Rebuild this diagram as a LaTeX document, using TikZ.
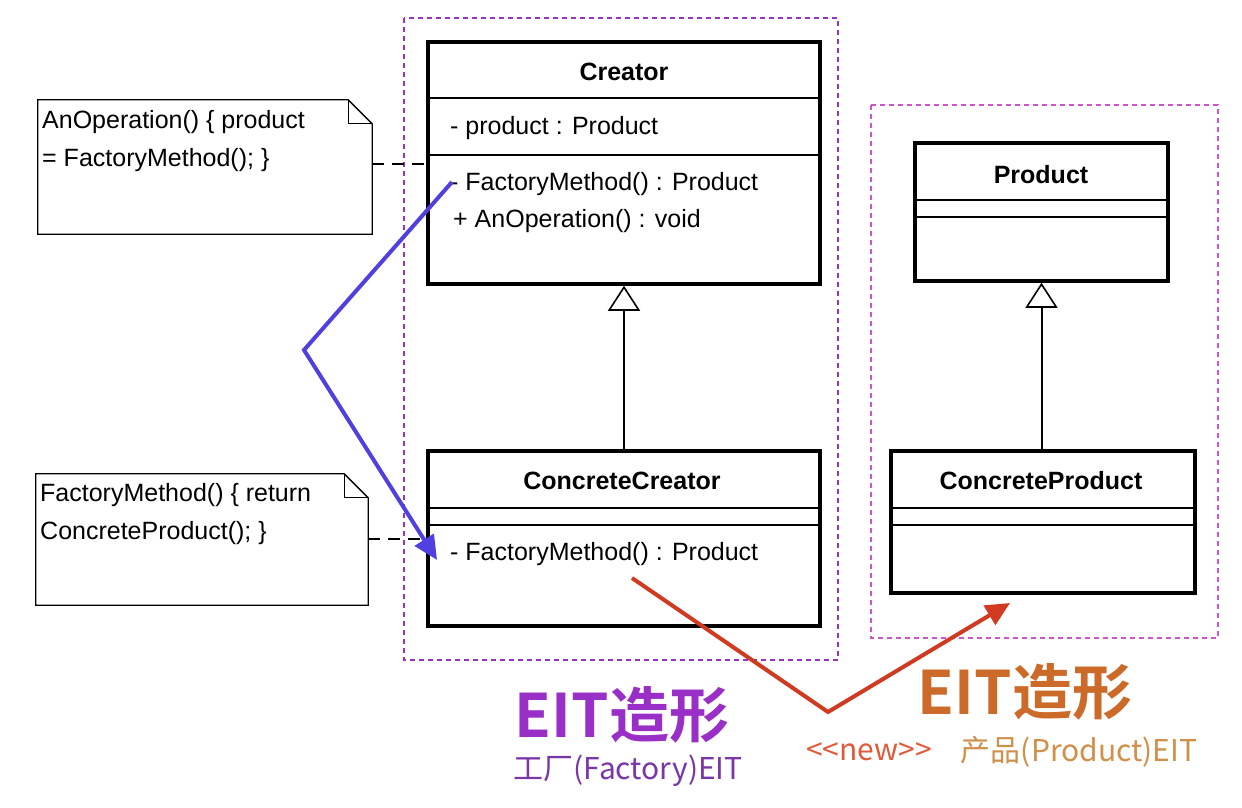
\documentclass[tikz,border=0pt]{standalone}
\usepackage{fontspec}
\setmainfont{Liberation Sans}
\newfontfamily\cjk{Noto Sans CJK SC}
\newfontfamily\cjkb{Noto Sans CJK SC Bold}
\usetikzlibrary{arrows.meta,calc}
\definecolor{boxpurple}{HTML}{9933BB}
\definecolor{boxmag}{HTML}{CC55CC}
\definecolor{titlepurple}{HTML}{9A2FC8}
\definecolor{subpurple}{HTML}{7A35A8}
\definecolor{titleorange}{HTML}{CC6A2A}
\definecolor{neworange}{HTML}{E05A3A}
\definecolor{suborange}{HTML}{D0904A}
\definecolor{arrowblue}{HTML}{5040E0}
\definecolor{arrowred}{HTML}{D03A20}
\tikzset{
  classbox/.style={draw=black, line width=3.5pt, rectangle, inner sep=0pt},
  comp/.style={line width=1.6pt},
  uml/.style={font=\fontsize{25}{30}\selectfont, inner sep=0pt, anchor=west},
  umlname/.style={font=\bfseries\fontsize{25}{30}\selectfont, inner sep=0pt},
  notebox/.style={rectangle, inner sep=0pt},
  noteline/.style={line width=1.3pt},
  grouping/.style={line width=1.3pt, dash pattern=on 5pt off 4pt},
  anchorline/.style={line width=1.3pt, dash pattern=on 12pt off 8pt},
  inherit/.style={line width=2pt, -{Triangle[open, length=25pt, width=32pt, line width=1.6pt]}},
  flowblue/.style={draw=arrowblue, line width=4pt, -{Triangle[length=24pt, width=22pt]}},
  flowred/.style={draw=arrowred, line width=4pt, -{Triangle[length=24pt, width=22pt]}}
}
\begin{document}
\begin{tikzpicture}[x=1pt, y=-1pt]
\useasboundingbox (0,0) rectangle (1242,808);
\fill[white] (0,0) rectangle (1242,808);

% grouping boxes
\draw[grouping, boxpurple] (404,18) rectangle (838,660);
\draw[grouping, boxmag] (871,105) rectangle (1218,638);

% Creator
\node[classbox, minimum width=392pt, minimum height=242pt] (creator) at (624,163) {};
\draw[comp] (428,98) -- (820,98);
\draw[comp] (428,155) -- (820,155);
\node[umlname] (creatorname) at (624,72) {Creator};
\node[uml] (creatorattr) at (450,128) {- product : Product};
\node[uml] (creatorm1) at (450,184) {- FactoryMethod() : Product};
\node[uml] (creatorm2) at (453,221) {+ AnOperation() : void};

% ConcreteCreator
\node[classbox, minimum width=392pt, minimum height=175pt] (ccreator) at (624,538.5) {};
\draw[comp] (428,508) -- (820,508);
\draw[comp] (428,525) -- (820,525);
\node[umlname] (ccreatorname) at (622,481) {ConcreteCreator};
\node[uml] (ccreatorm1) at (450,554) {- FactoryMethod() : Product};

% Product
\node[classbox, minimum width=253pt, minimum height=138pt] (product) at (1041.5,212) {};
\draw[comp] (915,200) -- (1168,200);
\draw[comp] (915,217) -- (1168,217);
\node[umlname] (productname) at (1041,175) {Product};

% ConcreteProduct
\node[classbox, minimum width=304pt, minimum height=142pt] (cproduct) at (1043,522) {};
\draw[comp] (891,508) -- (1195,508);
\draw[comp] (891,525) -- (1195,525);
\node[umlname] (cproductname) at (1041,481) {ConcreteProduct};

% inheritance
\draw[inherit] (ccreator.north) -- (creator.south);
\draw[inherit] (cproduct.north -| product.south) -- (product.south);

% notes
\node[notebox, minimum width=334pt, minimum height=134pt] (note1) at (205,167) {};
\draw[noteline] (note1.north west) -- ($(note1.north east)+(-24,0)$) -- ($(note1.north east)+(0,24)$) -- (note1.south east) -- (note1.south west) -- cycle;
\draw[noteline] ($(note1.north east)+(-24,0)$) -- ($(note1.north east)+(-24,24)$) -- ($(note1.north east)+(0,24)$);
\node[uml] (note1a) at (42,122) {AnOperation() \{ product};
\node[uml] (note1b) at (42,160) {= FactoryMethod(); \}};

\node[notebox, minimum width=332pt, minimum height=131pt] (note2) at (202,539.5) {};
\draw[noteline] (note2.north west) -- ($(note2.north east)+(-24,0)$) -- ($(note2.north east)+(0,24)$) -- (note2.south east) -- (note2.south west) -- cycle;
\draw[noteline] ($(note2.north east)+(-24,0)$) -- ($(note2.north east)+(-24,24)$) -- ($(note2.north east)+(0,24)$);
\node[uml] (note2a) at (40,495) {FactoryMethod() \{ return};
\node[uml] (note2b) at (40,533) {ConcreteProduct(); \}};

% note anchors
\draw[anchorline] (note1.east |- 0,164) -- (creator.west |- 0,164);
\draw[anchorline] (note2.east |- 0,539) -- (ccreator.west |- 0,539);

% flow arrows
\coordinate (bstart) at (452,182);
\coordinate (bbend) at (304,350);
\coordinate (bend) at (437,560);
\draw[flowblue, line join=miter] (bstart) -- (bbend) -- (bend);

\coordinate (rstart) at (632,578);
\coordinate (rbend) at (828,712);
\coordinate (rend) at (1010,603);
\draw[flowred, line join=miter] (rstart) -- (rbend) -- (rend);

% captions
\node[font=\cjkb\fontsize{60}{66}\selectfont, text=titlepurple, inner sep=0pt] (t1) at (622,715) {EIT造形};
\node[font=\cjk\fontsize{30}{34}\selectfont, text=subpurple, inner sep=0pt] (s1) at (628,771) {工厂(Factory)EIT};
\node[font=\cjkb\fontsize{60}{66}\selectfont, text=titleorange, inner sep=0pt] (t2) at (1025,692) {EIT造形};
\node[font=\cjk\fontsize{30}{34}\selectfont, text=neworange, inner sep=0pt] (s2) at (869,752) {<{}<new>{}>};
\node[font=\cjk\fontsize{30}{34}\selectfont, text=suborange, inner sep=0pt] (s3) at (1079,752) {产品(Product)EIT};
\end{tikzpicture}
\end{document}
